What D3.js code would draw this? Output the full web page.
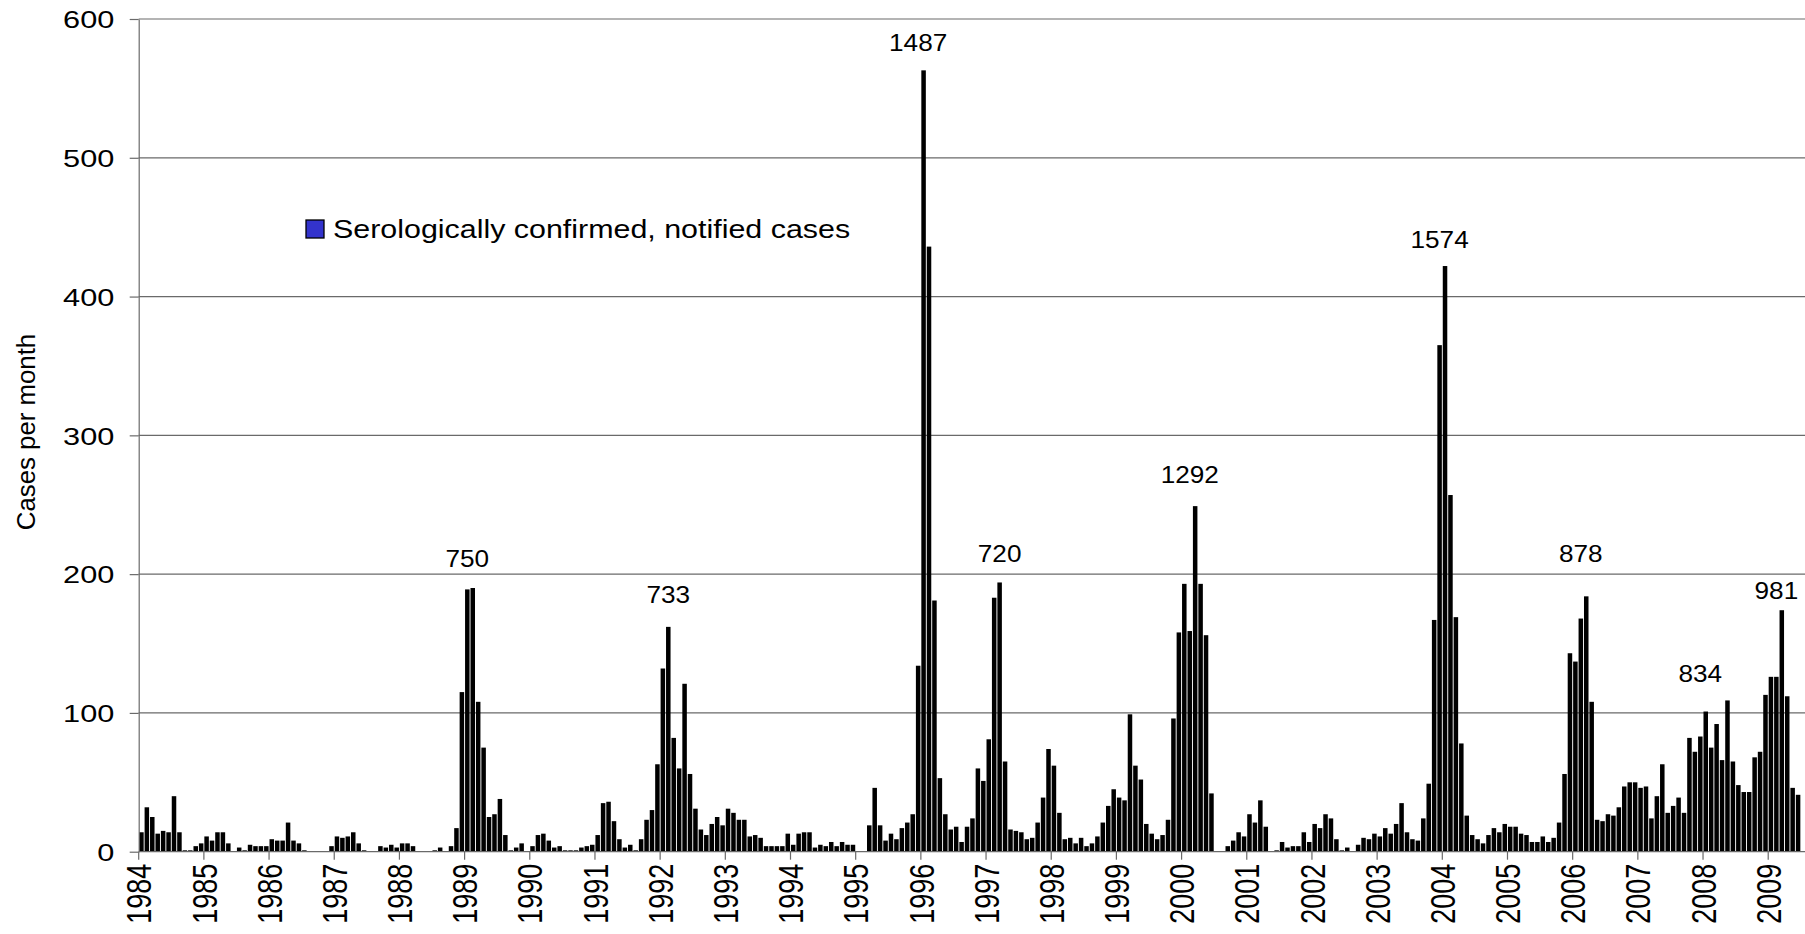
<!DOCTYPE html>
<html>
<head>
<meta charset="utf-8">
<script src="https://cdn.jsdelivr.net/npm/d3@7"></script>
<style>
  body { margin: 0; background: #fff; }
  svg { display: block; }
  text { font-family: "Liberation Sans", Arial, sans-serif; fill: #000; }
</style>
</head>
<body>
<svg id="chart" width="1805" height="934"></svg>
<script>
// Monthly serologically confirmed, notified cases (Jan..Dec per year)
const cases1984 = [14, 32, 25, 13, 15, 14, 40, 14, 1, 1, 4, 6];
const cases1985 = [11, 8, 14, 14, 6, 0, 3, 1, 5, 4, 4, 4];
const cases1986 = [9, 8, 8, 21, 8, 6, 1, 0, 0, 0, 0, 4];
const cases1987 = [11, 10, 11, 14, 6, 1, 0, 0, 4, 3, 5, 3];
const cases1988 = [6, 6, 4, 0, 0, 0, 1, 3, 0, 4, 17, 115];
const cases1989 = [189, 190, 108, 75, 25, 27, 38, 12, 1, 3, 6, 0];
const cases1990 = [4, 12, 13, 8, 3, 4, 1, 1, 1, 3, 4, 5];
const cases1991 = [12, 35, 36, 22, 9, 3, 5, 1, 9, 23, 30, 63];
const cases1992 = [132, 162, 82, 60, 121, 56, 31, 16, 12, 20, 25, 19];
const cases1993 = [31, 28, 23, 23, 11, 12, 10, 4, 4, 4, 4, 13];
const cases1994 = [5, 13, 14, 14, 3, 5, 4, 7, 4, 7, 5, 5];
const cases1995 = [0, 0, 19, 46, 19, 8, 13, 9, 17, 21, 27, 134];
const cases1996 = [563, 436, 181, 53, 27, 16, 18, 7, 18, 24, 60, 51];
const cases1997 = [81, 183, 194, 65, 16, 15, 14, 9, 10, 21, 39, 74];
const cases1998 = [62, 28, 9, 10, 6, 10, 4, 6, 11, 21, 33, 45];
const cases1999 = [39, 37, 99, 62, 52, 20, 13, 9, 12, 23, 96, 158];
const cases2000 = [193, 159, 249, 193, 156, 42, 0, 0, 4, 8, 14, 11];
const cases2001 = [27, 21, 37, 18, 0, 1, 7, 3, 4, 4, 14, 7];
const cases2002 = [20, 17, 27, 24, 9, 1, 3, 0, 5, 10, 9, 13];
const cases2003 = [11, 17, 13, 20, 35, 14, 9, 8, 24, 49, 167, 365];
const cases2004 = [422, 257, 169, 78, 26, 12, 9, 6, 12, 17, 14, 20];
const cases2005 = [18, 18, 13, 12, 7, 7, 11, 7, 10, 21, 56, 143];
const cases2006 = [137, 168, 184, 108, 23, 22, 27, 26, 32, 47, 50, 50];
const cases2007 = [46, 47, 24, 40, 63, 28, 33, 39, 28, 82, 72, 83];
const cases2008 = [101, 75, 92, 66, 109, 65, 48, 43, 43, 68, 72, 113];
const cases2009 = [126, 126, 174, 112, 46, 41];

// Year tick labels (one per series above)
const yearLabels = ["1984", "1985", "1986", "1987", "1988", "1989", "1990", "1991", "1992",
  "1993", "1994", "1995", "1996", "1997", "1998", "1999", "2000", "2001", "2002", "2003",
  "2004", "2005", "2006", "2007", "2008", "2009"];
const yTicks = [0, 100, 200, 300, 400, 500, 600];

// Season (July-June) totals written above each epidemic peak
const seasonTotals = ["750", "733", "1487", "720", "1292", "1574", "878", "834", "981"];
const seasonLabelMonth = ["1989-01", "1992-02", "1995-12", "1997-03", "2000-02", "2003-12", "2006-02", "2007-12", "2009-02"];
const seasonLabelLevel = [205, 179, 577, 209, 266, 435, 209, 122, 182];

const yearlySeries = [cases1984, cases1985, cases1986, cases1987, cases1988, cases1989, cases1990,
  cases1991, cases1992, cases1993, cases1994, cases1995, cases1996, cases1997, cases1998,
  cases1999, cases2000, cases2001, cases2002, cases2003, cases2004, cases2005, cases2006,
  cases2007, cases2008, cases2009];

const monthly = yearLabels.flatMap((yr, i) =>
  yearlySeries[i].map((v, m) => ({ month: `${yr}-${String(m + 1).padStart(2, "0")}`, value: v })));

// Layout
const W = 1805;
const plotLeft = 138.7, plotBase = 851.7, plotTop = 19;
const monthStep = 5.4317;

const svg = d3.select("#chart");

const x = d3.scaleBand()
  .domain(monthly.map(d => d.month))
  .range([plotLeft, plotLeft + monthly.length * monthStep])
  .paddingInner(0.17)
  .paddingOuter(0.085);

const y = d3.scaleLinear().domain([0, 600]).range([plotBase, plotTop]);

const slotStart = m => x(m) - x.step() * x.paddingInner() / 2;

const gridColor = "#6a6a6a";

// Horizontal gridlines
svg.append("g")
  .selectAll("line")
  .data(yTicks.filter(t => t > 0))
  .join("line")
  .attr("x1", plotLeft).attr("x2", W)
  .attr("y1", d => y(d)).attr("y2", d => y(d))
  .attr("stroke", gridColor).attr("stroke-width", 1.2);

// Bars
svg.append("g")
  .selectAll("rect")
  .data(monthly.filter(d => d.value > 0))
  .join("rect")
  .attr("x", d => x(d.month))
  .attr("width", x.bandwidth())
  .attr("y", d => y(d.value))
  .attr("height", d => y(0) - y(d.value))
  .attr("fill", "#000");

// Y axis
const yAxis = svg.append("g")
  .attr("transform", `translate(${plotLeft},0)`)
  .call(d3.axisLeft(y).tickValues(yTicks).tickSize(9).tickPadding(0).tickSizeOuter(0));
yAxis.select(".domain").attr("stroke", gridColor).attr("stroke-width", 1.2);
yAxis.selectAll(".tick line").attr("stroke", gridColor).attr("stroke-width", 1.2);
yAxis.selectAll(".tick text")
  .attr("x", null)
  .attr("dy", "0.36em")
  .attr("font-size", 24)
  .attr("font-family", "Liberation Sans, Arial, sans-serif")
  .attr("fill", "#000")
  .attr("transform", "translate(-24.4,0) scale(1.28,1)");

// X axis baseline and year ticks
svg.append("line")
  .attr("x1", plotLeft).attr("x2", W)
  .attr("y1", y(0)).attr("y2", y(0))
  .attr("stroke", gridColor).attr("stroke-width", 1.2);

const yearTicks = svg.append("g")
  .selectAll("g")
  .data(yearLabels)
  .join("g")
  .attr("transform", d => `translate(${slotStart(d + "-01")},${y(0)})`);

yearTicks.append("line")
  .attr("y1", 0).attr("y2", 8)
  .attr("stroke", gridColor).attr("stroke-width", 1.2);

yearTicks.append("text")
  .attr("transform", "translate(0,12) scale(1.3,1) rotate(-90)")
  .attr("text-anchor", "end")
  .attr("dy", "0.36em")
  .attr("font-size", 27)
  .text(d => d);

// Y axis title
svg.append("text")
  .attr("transform", "translate(34.5,432) rotate(-90)")
  .attr("text-anchor", "middle")
  .attr("font-size", 25.8)
  .text("Cases per month");

// Season total labels
svg.append("g")
  .selectAll("text")
  .data(seasonTotals)
  .join("text")
  .attr("transform", (d, i) =>
    `translate(${x(seasonLabelMonth[i]) + x.bandwidth() / 2},${y(seasonLabelLevel[i])}) scale(1.09,1)`)
  .attr("text-anchor", "middle")
  .attr("font-size", 24)
  .text(d => d);

// Legend
const legend = svg.append("g").attr("transform", "translate(306,220)");
legend.append("rect")
  .attr("width", 18).attr("height", 18)
  .attr("fill", "#3333cc")
  .attr("stroke", "#000").attr("stroke-width", 1.3);
legend.append("text")
  .attr("transform", "translate(27,17.5) scale(1.17,1)")
  .attr("font-size", 26)
  .text("Serologically confirmed, notified cases");
</script>
</body>
</html>
